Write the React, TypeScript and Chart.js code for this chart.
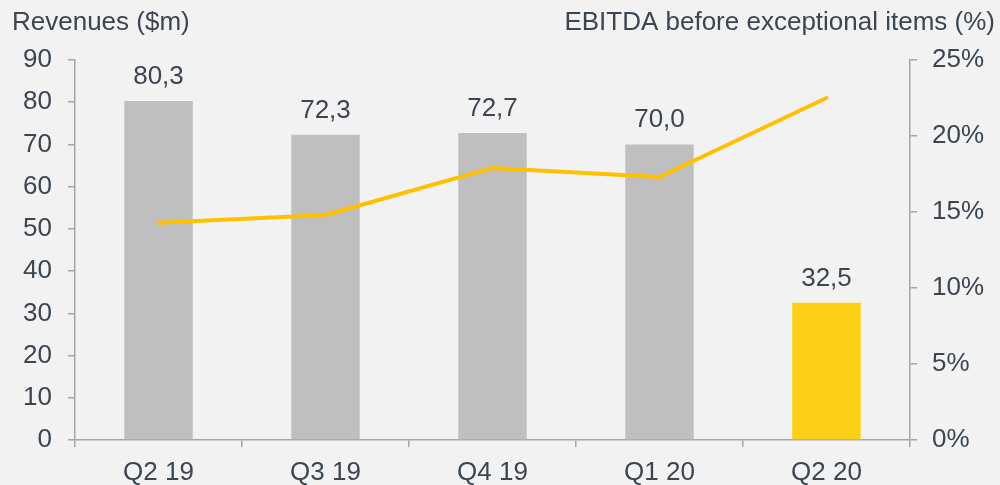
import React, { useEffect, useRef } from "react";
import { Chart, registerables } from "chart.js";

Chart.register(...registerables);

const categories = ["Q2 19", "Q3 19", "Q4 19", "Q1 20", "Q2 20"];
const revenues = [80.3, 72.3, 72.7, 70.0, 32.5];
const revenueLabels = ["80,3", "72,3", "72,7", "70,0", "32,5"];
const ebitdaPct = [14.3, 14.8, 17.9, 17.3, 22.5];
const barColors = ["#bfbfbf", "#bfbfbf", "#bfbfbf", "#bfbfbf", "#fdd017"];
const leftTitle = "Revenues ($m)";
const rightTitle = "EBITDA before exceptional items (%)";

const TEXT = "#3a4651";
const AXIS = "#a6a6a6";
const FONT = "Liberation Sans, Arial, sans-serif";
const FS = 26;

const overlay = {
  id: "overlay",
  afterDatasetsDraw(chart: any) {
    const ctx = chart.ctx;
    ctx.save();
    ctx.fillStyle = TEXT;
    ctx.font = `${FS}px ${FONT}`;
    ctx.textBaseline = "alphabetic";
    ctx.textAlign = "left";
    ctx.fillText(leftTitle, 12, 30);
    ctx.textAlign = "right";
    ctx.fillText(rightTitle, 995, 30);
    const meta = chart.getDatasetMeta(1);
    ctx.textAlign = "center";
    meta.data.forEach((el: any, i: number) => {
      ctx.fillText(revenueLabels[i], el.x, el.y - 17);
    });
    ctx.restore();
  },
};

export default function App() {
  const ref = useRef<HTMLCanvasElement>(null);
  useEffect(() => {
    document.body.style.margin = "0";
    document.body.style.background = "#f2f2f2";
    const chart = new Chart(ref.current as HTMLCanvasElement, {
      type: "bar",
      data: {
        labels: categories,
        datasets: [
          {
            type: "line",
            data: ebitdaPct,
            yAxisID: "y1",
            borderColor: "#ffc000",
            borderWidth: 4,
            pointRadius: 0,
            tension: 0,
            borderCapStyle: "round",
            borderJoinStyle: "round",
            order: 0,
          } as any,
          {
            type: "bar",
            data: revenues,
            yAxisID: "y",
            backgroundColor: barColors,
            categoryPercentage: 1,
            barPercentage: 0.41,
            order: 1,
          } as any,
        ],
      },
      options: {
        animation: false,
        responsive: false,
        layout: { padding: { top: 60, left: 0, right: 0, bottom: 0 } },
        plugins: { legend: { display: false }, tooltip: { enabled: false } },
        scales: {
          x: {
            afterFit: (s: any) => { s.height = 45; },
            border: { display: true, color: AXIS, width: 1.5 },
            grid: { display: true, drawOnChartArea: false, tickLength: 7, color: AXIS, offset: true, lineWidth: 1.5 },
            ticks: { color: TEXT, font: { size: FS, family: FONT }, padding: 10 },
          },
          y: {
            position: "left",
            min: 0,
            max: 90,
            afterFit: (s: any) => { s.width = 75; },
            border: { display: true, color: AXIS, width: 1.5 },
            grid: { display: true, drawOnChartArea: false, tickLength: 7, color: AXIS, lineWidth: 1.5 },
            ticks: { stepSize: 10, color: TEXT, font: { size: FS, family: FONT }, padding: 16 },
          },
          y1: {
            position: "right",
            min: 0,
            max: 25,
            afterFit: (s: any) => { s.width = 90; },
            border: { display: true, color: AXIS, width: 1.5 },
            grid: { display: true, drawOnChartArea: false, tickLength: 7, color: AXIS, lineWidth: 1.5 },
            ticks: {
              stepSize: 5,
              color: TEXT,
              font: { size: FS, family: FONT },
              padding: 15,
              callback: (v: any) => `${v}%`,
            },
          },
        },
      },
      plugins: [overlay],
    });
    return () => chart.destroy();
  }, []);
  return (
    <div style={{ width: 1000, height: 485, background: "#f2f2f2" }}>
      <canvas ref={ref} width={1000} height={485} style={{ display: "block" }} />
    </div>
  );
}
